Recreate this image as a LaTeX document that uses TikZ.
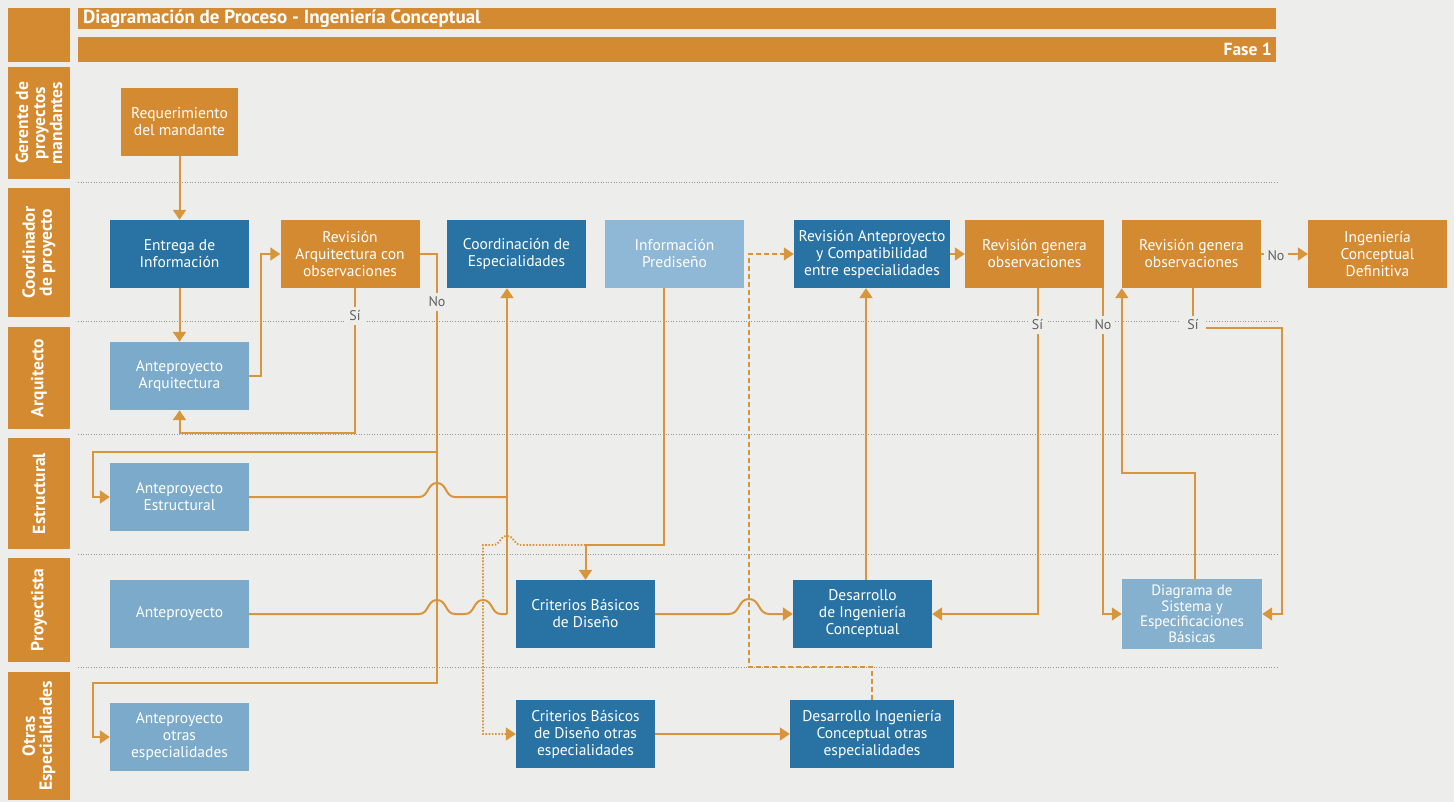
\documentclass[tikz,border=0pt]{standalone}
\usepackage{fontspec}
\setmainfont{PT Sans}
\usetikzlibrary{arrows.meta}
\definecolor{bg}{HTML}{EDEDEB}
\definecolor{orng}{HTML}{D48A30}
\definecolor{conn}{HTML}{D8963C}
\definecolor{dblue}{HTML}{2873A4}
\definecolor{lblue}{HTML}{7CAACA}
\definecolor{lblueb}{HTML}{8EB8D5}
\definecolor{sepc}{HTML}{9C978E}
\definecolor{lblc}{HTML}{626262}
\newcommand\hopat[4]{-- ({#1-#3},#2) .. controls ({#1-#3*0.45},#2) and ({#1-#3*0.55},{#2-#4}) .. (#1,{#2-#4}) .. controls ({#1+#3*0.55},{#2-#4}) and ({#1+#3*0.45},#2) .. ({#1+#3},#2)}
\tikzset{
  box/.style={draw=none, minimum width=139pt, minimum height=68pt, inner sep=1pt, align=center, text=white, font=\fontsize{15.5}{17}\selectfont},
  obox/.style={box, fill=orng},
  dbox/.style={box, fill=dblue},
  lbox/.style={box, fill=lblue},
  lanetxt/.style={text=white, font=\bfseries\fontsize{17.5}{17}\selectfont, align=center, rotate=90, inner sep=0pt},
  bar/.style={fill=orng},
  ln/.style={draw=conn, line width=2pt},
  arr/.style={ln, -{Triangle[length=10pt,width=13pt]}},
  dotarr/.style={draw=conn, line width=1.8pt, dash pattern=on 1.6pt off 1.6pt, {Triangle[length=10pt,width=13pt]}-},
  dasharr/.style={draw=conn, line width=1.8pt, dash pattern=on 5pt off 3pt, -{Triangle[length=10pt,width=13pt]}},
  sepline/.style={draw=sepc, line width=1pt, dash pattern=on 1pt off 1.6pt},
  lbl/.style={fill=bg, text=lblc, font=\fontsize{14}{14}\selectfont, inner sep=4pt},
}
\begin{document}
\begin{tikzpicture}[x=1pt,y=-1pt]
\useasboundingbox (0,0) rectangle (1454,802);
\fill[bg] (0,0) rectangle (1454,802);

% header
\fill[bar] (8,8) rectangle (70,62);
\fill[bar] (78,8) rectangle (1276,29);
\fill[bar] (78,37) rectangle (1276,62);
\node[anchor=west, text=white, font=\bfseries\fontsize{19}{19}\selectfont, inner sep=0pt] (title) at (83,18.5) {Diagramación de Proceso - Ingeniería Conceptual};
\node[anchor=east, text=white, font=\bfseries\fontsize{17.5}{17.5}\selectfont, inner sep=0pt] (fase) at (1272,49.5) {Fase 1};

% lanes
\fill[bar] (8,67) rectangle (70,179);
\node[lanetxt] (l1) at (39,123) {Gerente de\\proyectos\\mandantes};
\fill[bar] (8,188) rectangle (70,317);
\node[lanetxt] (l2) at (39,252.5) {Coordinador\\de proyecto};
\fill[bar] (8,327) rectangle (70,429);
\node[lanetxt] (l3) at (39,378) {Arquitecto};
\fill[bar] (8,438) rectangle (70,549);
\node[lanetxt] (l4) at (39,493.5) {Estructural};
\fill[bar] (8,558) rectangle (70,662);
\node[lanetxt] (l5) at (39,610) {Proyectista};
\fill[bar] (8,672) rectangle (70,800);
\node[lanetxt] (l6) at (39,736) {Otras\\Especialidades};

% separators
\foreach \yy in {183,322,434,554,667}{\draw[sepline] (78,\yy) -- (1278,\yy);}

% nodes
\node[obox, minimum width=117pt] (req) at (179.5,122) {Requerimiento\\del mandante};
\node[dbox] (entrega) at (179.5,254) {Entrega de\\Información};
\node[obox] (revarq) at (350,254) {Revisión\\Arquitectura con\\observaciones};
\node[dbox] (coord) at (516.5,254) {Coordinación de\\Especialidades};
\node[box, fill=lblueb] (predis) at (674.5,254) {Información\\Prediseño};
\node[dbox, minimum width=156pt] (revante) at (872,254) {Revisión Anteproyecto\\y Compatibilidad\\entre especialidades};
\node[obox] (revobs1) at (1034.5,254) {Revisión genera\\observaciones};
\node[obox] (revobs2) at (1191.5,254) {Revisión genera\\observaciones};
\node[obox] (icdef) at (1377.5,254) {Ingeniería\\Conceptual\\Definitiva};
\node[lbox] (antarq) at (179.5,376) {Anteproyecto\\Arquitectura};
\node[lbox] (antest) at (179.5,497) {Anteproyecto\\Estructural};
\node[lbox] (antpro) at (179.5,614) {Anteproyecto};
\node[dbox] (crit) at (585.5,614) {Criterios Básicos\\de Diseño};
\node[dbox] (desing) at (862.5,614) {Desarrollo\\de Ingeniería\\Conceptual};
\node[box, fill=lblue!92!white, minimum width=140pt, minimum height=70pt, font=\fontsize{15}{15.5}\selectfont] (diag) at (1192,614) {Diagrama de\\Sistema y\\Especificaciones\\Básicas};
\node[lbox] (antotr) at (179.5,737) {Anteproyecto\\otras\\especialidades};
\node[dbox] (critotr) at (585.5,734) {Criterios Básicos\\de Diseño otras\\especialidades};
\node[dbox, minimum width=164pt] (desotr) at (872,734) {Desarrollo Ingeniería\\Conceptual otras\\especialidades};

% junction coordinates
\coordinate (jno) at (437,254);
\coordinate (jcoord) at (507,614);
\coordinate (jpre) at (585.5,545);
\coordinate (jdash) at (749,254);
\coordinate (jdiag) at (1195,473);

% connectors
\draw[arr] (req) -- (entrega);
\draw[arr] (entrega) -- (antarq);
\draw[arr] (antarq.east) -- ++(12,0) |- (revarq.west);
\draw[arr] ([xshift=5pt]revarq.south) -- (355,433) -| (antarq.south);
\draw[arr] (revarq.east) -- (jno) -- (437,683) -- (93,683) |- (antotr.west);
\draw[arr] (437,452) -- (93,452) |- (antest.west);
\draw[ln] (antest.east) \hopat{437}{497}{18}{14} -- (507,497);
\draw[ln] (antpro.east) \hopat{437}{614}{18}{14} \hopat{483}{614}{18}{14} -- (jcoord);
\draw[arr] (jcoord) -- ([xshift=-9.5pt]coord.south);
\draw[arr] ([xshift=-10.5pt]predis.south) |- (jpre) -- (crit.north);
\draw[dotarr] (critotr.west) -| (483,545) \hopat{507}{545}{14}{9} -- (jpre);
\draw[arr] (crit.east) \hopat{749}{614}{20}{15} -- (desing.west);
\draw[arr] (critotr) -- (desotr);
\draw[dasharr] (desotr.north) |- (749,667) -- (jdash) -- (revante.west);
\draw[arr] ([xshift=3.5pt]desing.north) -- ([xshift=-6pt]revante.south);
\draw[arr] (revante) -- (revobs1);
\draw[arr] ([xshift=3pt]revobs1.south) |- (desing.east);
\draw[arr] ([xshift=-1.5pt]revobs1.south east) |- (diag.west);
\draw[arr] ([xshift=3pt]diag.north) -- (jdiag) -| (revobs2.south west);
\draw[arr] ([xshift=1.5pt]revobs2.south) |- (1282,328) |- (diag.east);
\draw[arr] (revobs2) -- (icdef);

% labels
\node[lbl] (s1) at (355,316) {Sí};
\node[lbl] (n1) at (437,302) {No};
\node[lbl] (s2) at (1037.5,325) {Sí};
\node[lbl] (n2) at (1103,325) {No};
\node[lbl, inner xsep=7pt] (s3) at (1193,325) {Sí};
\node[lbl] (n3) at (1276,256) {No};
\end{tikzpicture}
\end{document}
